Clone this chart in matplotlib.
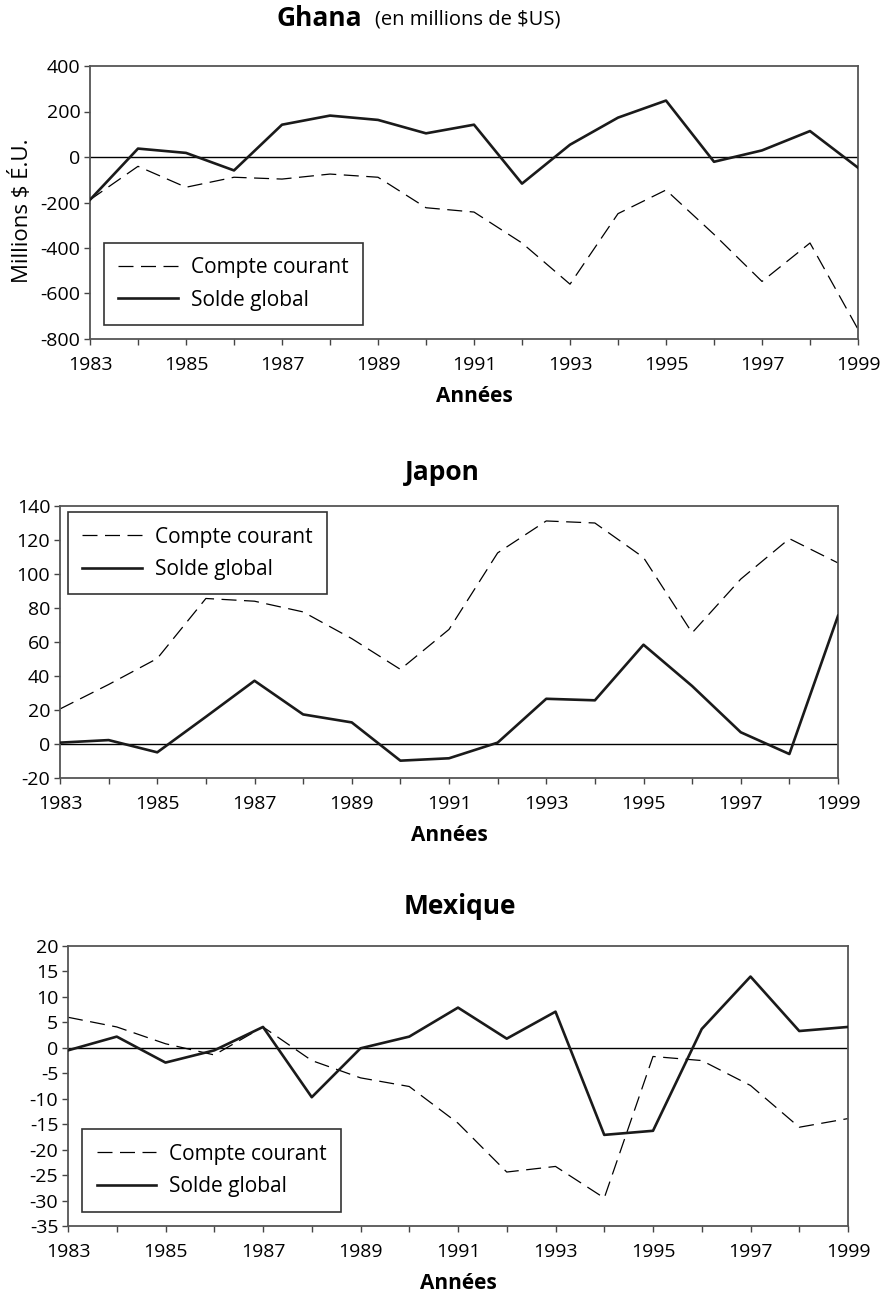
import numpy as np
import matplotlib
matplotlib.use("Agg")
import matplotlib.pyplot as plt

plt.rcParams['font.family'] = ['Open Sans', 'DejaVu Sans']

years = list(range(1983, 2000))
year_labels = [str(y) for y in range(1983, 2000, 2)]

# Ghana (millions $US)
ghana_courant = [-188, -41, -133, -89, -97, -75, -89, -223, -242, -378, -559, -249, -145, -340, -547, -378, -757]
ghana_solde = [-188, 37, 18, -59, 142, 182, 163, 104, 142, -117, 54, 173, 248, -21, 29, 114, -47]

# Japon
japon_courant = [20.6, 35, 50.3, 85.6, 84, 77.7, 62, 43.9, 67.4, 112.4, 131.2, 130, 109.7, 65.4, 97, 120.8, 106.5]
japon_solde = [0.8, 2.3, -4.9, 16, 37.2, 17.4, 12.7, -9.8, -8.4, 0.8, 26.6, 25.7, 58.4, 34.1, 6.9, -5.9, 75.4]

# Mexique
mexique_courant = [6, 4.1, 0.8, -1.4, 4.1, -2.5, -5.9, -7.6, -14.8, -24.4, -23.3, -29.5, -1.7, -2.5, -7.4, -15.6, -13.9]
mexique_solde = [-0.5, 2.2, -2.9, -0.5, 4.1, -9.7, -0.1, 2.2, 7.9, 1.8, 7.1, -17.1, -16.3, 3.7, 14, 3.3, 4.1]

fs = 14
W = 882.0
H = 1292.0


def draw_panel(fig, box, courant, solde, ylim, ystep, leg_anchor):
      # box = (left, top, right, bottom) in pixels
      l, t, r, b = box
      ax = fig.add_axes([l / W, 1 - b / H, (r - l) / W, (b - t) / H])
      ax.axhline(0, color='black', lw=1.0, zorder=1)
      ax.plot(years, courant, color='black', lw=0.9, dashes=(12, 6), label='Compte courant', zorder=2)
      ax.plot(years, solde, color='#1a1a1a', lw=1.9, label='Solde global', zorder=3)
      ax.set_xlim(1983, 1999)
      ax.set_ylim(ylim)
      yt = np.arange(ylim[0], ylim[1] + ystep / 2, ystep)
      ax.set_yticks(yt)
      ax.set_yticklabels([str(int(v)) for v in yt])
      ax.set_xticks(range(1983, 2000, 2))
      ax.set_xticklabels(year_labels)
      ax.set_xticks(years, minor=True)
      ax.tick_params(axis='both', which='both', direction='out', labelsize=fs, length=4, width=1.0,
                     color='#444444')
      ax.tick_params(axis='x', which='major', pad=8)
      ax.tick_params(axis='y', which='major', pad=3)
      for sp in ax.spines.values():
            sp.set_linewidth(1.3)
            sp.set_color('#555555')
      ax.set_xlabel('Années', fontsize=15, fontweight='bold', labelpad=9)
      leg = ax.legend(loc='upper left', bbox_to_anchor=leg_anchor, borderaxespad=0, fontsize=15,
                      frameon=True, fancybox=False, edgecolor='#333333', framealpha=1,
                      handlelength=2.85, borderpad=0.7, labelspacing=0.54, handletextpad=0.63)
      leg.get_frame().set_linewidth(1.2)
      return ax


fig = plt.figure(figsize=(8.82, 12.92), dpi=100)

ax1 = draw_panel(fig, (90, 66, 858, 339), ghana_courant, ghana_solde,
                 (-800, 400), 200, (0.018, 0.352))
ax1.set_ylabel('Millions $ É.U.', fontsize=16)
ax1.yaxis.set_label_coords(-0.074, 0.47)
fig.text(277 / W, 1 - 19 / H, 'Ghana', fontsize=19, fontweight='bold', ha='left', va='center')
fig.text(375 / W, 1 - 19 / H, '(en millions de $US)', fontsize=14.5, ha='left', va='center')

ax2 = draw_panel(fig, (60, 506, 838, 778), japon_courant, japon_solde,
                 (-20, 140), 20, (0.010, 0.978))
fig.text(442 / W, 1 - 473 / H, 'Japon', fontsize=19, fontweight='bold', ha='center', va='center')

ax3 = draw_panel(fig, (68, 946, 848, 1226), mexique_courant, mexique_solde,
                 (-35, 20), 5, (0.018, 0.346))
fig.text(460 / W, 1 - 906 / H, 'Mexique', fontsize=19, fontweight='bold', ha='center', va='center')

fig.savefig('out.png', dpi=100)
